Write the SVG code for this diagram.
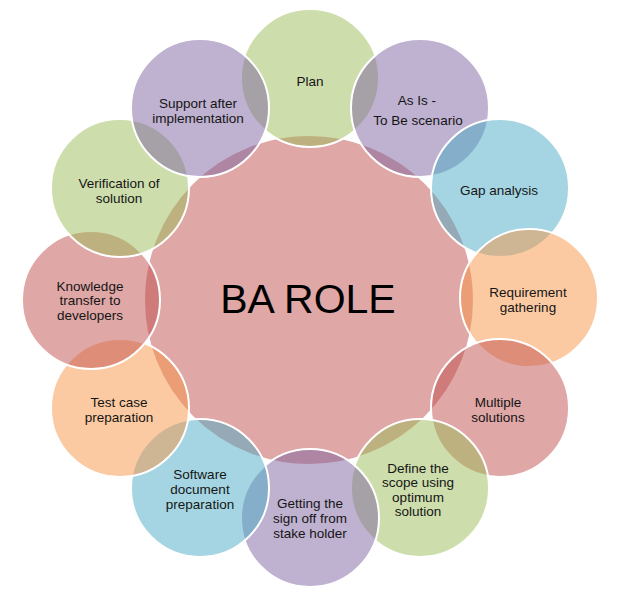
<svg xmlns="http://www.w3.org/2000/svg" width="617" height="595" viewBox="0 0 617 595">
<style>
.c{stroke:#fff;stroke-width:2;fill-opacity:0.5}
.g{fill:#9BBB59}.p{fill:#8064A2}.b{fill:#4BACC6}.o{fill:#F79646}.r{fill:#C0504D}
text{font-family:"Liberation Sans",Arial,sans-serif;font-size:13.5px;fill:#151515;text-anchor:middle}
.big{font-size:41px;fill:#000}
</style>
<rect width="617" height="595" fill="#fff"/>
<g id="center"><circle class="c r" cx="309" cy="300" r="165" stroke="none"/><text class="big" x="308" y="313">BA ROLE</text></g>
<g id="plan"><circle class="c g" cx="310" cy="78" r="69"/><text x="310" y="85.5">Plan</text></g>
<g id="as-is"><circle class="c p" cx="420" cy="108" r="69"/><text x="417" y="105">As Is -</text><text x="418" y="125">To Be scenario</text></g>
<g id="gap"><circle class="c b" cx="500" cy="188" r="69"/><text x="499" y="195">Gap analysis</text></g>
<g id="requirement"><circle class="c o" cx="529" cy="298" r="69"/><text x="528" y="297">Requirement</text><text x="528" y="312">gathering</text></g>
<g id="multiple"><circle class="c r" cx="500" cy="408" r="69"/><text x="498" y="407">Multiple</text><text x="498" y="422">solutions</text></g>
<g id="define"><circle class="c g" cx="420" cy="488" r="69"/><text x="418" y="472.5">Define the</text><text x="418" y="487">scope using</text><text x="418" y="501.5">optimum</text><text x="418" y="516">solution</text></g>
<g id="getting"><circle class="c p" cx="310" cy="518" r="69"/><text x="310" y="508">Getting the</text><text x="310" y="523">sign off from</text><text x="310" y="538">stake holder</text></g>
<g id="software"><circle class="c b" cx="200" cy="488" r="69"/><text x="200" y="479">Software</text><text x="200" y="494">document</text><text x="200" y="508.5">preparation</text></g>
<g id="test"><circle class="c o" cx="120" cy="408" r="69"/><text x="119" y="407">Test case</text><text x="119" y="421.5">preparation</text></g>
<g id="knowledge"><circle class="c r" cx="91" cy="300" r="69"/><text x="90" y="290.5">Knowledge</text><text x="90" y="305">transfer to</text><text x="90" y="319.5">developers</text></g>
<g id="verification"><circle class="c g" cx="120" cy="188" r="69"/><text x="119" y="188">Verification of</text><text x="119" y="202.5">solution</text></g>
<g id="support"><circle class="c p" cx="200" cy="108" r="69"/><text x="198" y="108">Support after</text><text x="198" y="123">implementation</text></g>
</svg>
